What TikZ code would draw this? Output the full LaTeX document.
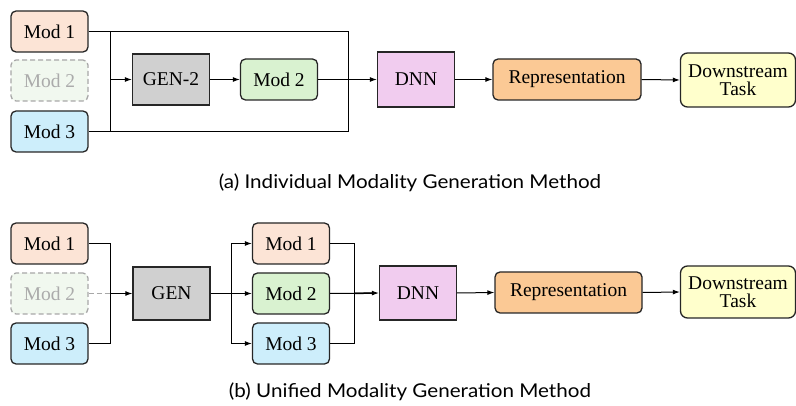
\documentclass[tikz,border=0pt]{standalone}
\usepackage{fontspec}
\setmainfont{Liberation Serif}
\newfontfamily\boxfont{Liberation Serif}
\newfontfamily\capfont{Lato}
\usetikzlibrary{arrows.meta}
\definecolor{cmodA}{HTML}{FCE4D6}
\definecolor{cmodB}{HTML}{D9F2D0}
\definecolor{cmodC}{HTML}{CDEEFB}
\definecolor{cghost}{HTML}{F1F8EF}
\definecolor{cghostline}{HTML}{A8A8A8}
\definecolor{cghosttext}{HTML}{ABABAB}
\definecolor{cgen}{HTML}{D0D0D0}
\definecolor{cdnn}{HTML}{F1CCEF}
\definecolor{crep}{HTML}{FBC995}
\definecolor{cds}{HTML}{FFFFCC}
\newcommand{\capstretch}[1]{\scalebox{1.085}[1]{#1}}
\tikzset{
  box/.style={draw=black!85, line width=1.3pt, inner sep=0pt, align=center,
    font=\boxfont\fontsize{19.5}{21}\selectfont},
  modbox/.style={box, rounded corners=5pt, minimum width=77pt, minimum height=41pt},
  ghostbox/.style={modbox, draw=cghostline, dashed, dash pattern=on 5pt off 3pt, fill=cghost, text=cghosttext},
  sqbox/.style={box, minimum width=77pt},
  conn/.style={line width=1pt, draw=black},
  arr/.style={conn, -{Latex[length=7pt,width=5pt]}},
  captext/.style={font=\capfont\fontsize{19}{22}\selectfont}
}
\begin{document}
\begin{tikzpicture}[x=1pt,y=-1pt]
\useasboundingbox (0,0) rectangle (796,406);
% ---------- (a) ----------
\node[modbox, fill=cmodA] (m1a) at (49.5,31.5) {Mod 1};
\node[ghostbox] (m2a) at (49.5,80.5) {Mod 2};
\node[modbox, fill=cmodC] (m3a) at (49.5,131.5) {Mod 3};
\node[sqbox, fill=cgen, minimum height=51pt] (gen2) at (171,79.5) {GEN-2};
\node[modbox, fill=cmodB] (mod2a) at (279,79.5) {Mod 2};
\node[sqbox, fill=cdnn, minimum height=55pt] (dnna) at (416,79.5) {DNN};
\node[modbox, fill=crep, minimum width=148pt] (repa) at (567,79.5) {Representation};
\node[modbox, fill=cds, minimum width=115pt, minimum height=54pt, rounded corners=7pt] (dsa) at (738,80) {Downstream\\[-3pt]Task};
\coordinate (ja) at (110.5,79.5);
\coordinate (ka) at (348.5,79.5);
\draw[conn] (m1a.east) -| (ja) |- (m3a.east);
\draw[conn] (m1a.east) -| (ka) |- (m3a.east);
\draw[arr] (ja) -- (gen2.west);
\draw[arr] (gen2.east) -- (mod2a.west);
\draw[arr] (mod2a.east) -- (dnna.west);
\draw[conn, line width=1.5pt] (ka) -- ([xshift=-6pt]dnna.west);
\draw[arr] (dnna.east) -- (repa.west);
\draw[arr] (repa.east) -- (dsa.west);
\node[captext] (capa) at (410,183) {\capstretch{(a) Individual Modality Generation Method}};
% ---------- (b) ----------
\node[modbox, fill=cmodA] (m1b) at (49.5,243.5) {Mod 1};
\node[ghostbox] (m2b) at (49.5,293.5) {Mod 2};
\node[modbox, fill=cmodC] (m3b) at (49.5,343.5) {Mod 3};
\node[sqbox, fill=cgen, minimum height=53pt] (gen) at (171.5,293.5) {GEN};
\node[modbox, fill=cmodA] (r1) at (291,243.5) {Mod 1};
\node[modbox, fill=cmodB] (r2) at (291,293.5) {Mod 2};
\node[modbox, fill=cmodC] (r3) at (291,343.5) {Mod 3};
\node[sqbox, fill=cdnn, minimum height=54pt] (dnnb) at (418,293) {DNN};
\node[modbox, fill=crep, minimum width=147pt] (repb) at (568.5,292.5) {Representation};
\node[modbox, fill=cds, minimum width=115pt, minimum height=52pt, rounded corners=7pt] (dsb) at (738,292) {Downstream\\[-3pt]Task};
\coordinate (jb) at (110.5,293.5);
\coordinate (sb) at (231.5,293.5);
\coordinate (kb) at (354.5,293.5);
\draw[conn] (m1b.east) -| (jb) |- (m3b.east);
\draw[conn, draw=cghostline, dashed, dash pattern=on 5pt off 3pt] (m2b.east) -- (jb);
\draw[arr] (jb) -- (gen.west);
\draw[conn, line width=1.5pt] (gen.east) -- (sb);
\draw[arr] (sb) |- (r1.west);
\draw[arr] (sb) -- (r2.west);
\draw[arr] (sb) |- (r3.west);
\draw[conn] (r1.east) -| (kb) |- (r3.east);
\draw[arr] (r2.east) -- (dnnb.west);
\draw[conn, line width=1.5pt] (kb) -- ([xshift=-6pt]dnnb.west);
\draw[arr] (dnnb.east) -- (repb.west);
\draw[arr] (repb.east) -- (dsb.west);
\node[captext] (capb) at (410,392) {\capstretch{(b) Unified Modality Generation Method}};
\end{tikzpicture}
\end{document}
